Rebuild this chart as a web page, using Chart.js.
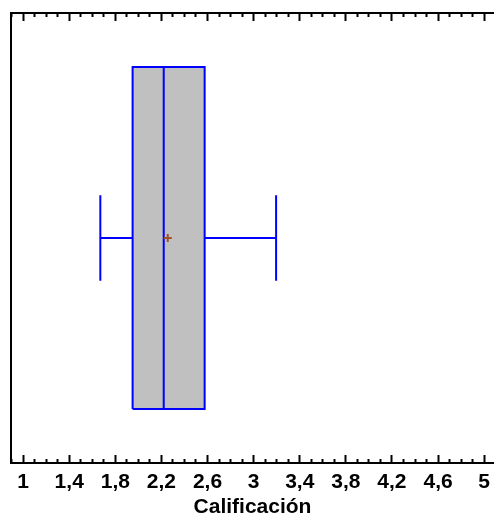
<!DOCTYPE html>
<html>
<head>
<meta charset="utf-8">
<script src="https://cdn.jsdelivr.net/npm/chart.js@4"></script>
<style>
    html, body { margin: 0; padding: 0; background: #fff; }
    #wrap { width: 494px; height: 525px; }
</style>
</head>
<body>
<div id="wrap"><canvas id="boxChart"></canvas></div>
<script>
// Box plot data
const axisTitle = 'Calificación';
const whiskerMin = [1.67];
const quartile1 = [1.95];
const medians = [2.22];
const quartile3 = [2.575];
const whiskerMax = [3.195];
const means = [2.255];

const tickValues = [1, 1.4, 1.8, 2.2, 2.6, 3, 3.4, 3.8, 4.2, 4.6, 5];
const tickLabels = ['1', '1,4', '1,8', '2,2', '2,6', '3', '3,4', '3,8', '4,2', '4,6', '5'];

// vertical layout of the box inside the plot (0..1)
const BOX_LO = 0.12;
const BOX_HI = 0.88;
const CAP_LO = 0.405;
const CAP_HI = 0.595;
const MID = 0.5;

const BLUE = '#0000ff';
const FONT = '"Liberation Sans", Arial, sans-serif';

function isMajor(value) {
    return tickValues.some(t => Math.abs(t - value) < 1e-6);
}

function labelFor(value) {
    const i = tickValues.findIndex(t => Math.abs(t - value) < 1e-6);
    return i >= 0 ? tickLabels[i] : '';
}

function segment(points) {
    return {
        type: 'scatter',
        data: points,
        showLine: true,
        fill: false,
        borderColor: BLUE,
        borderWidth: 2,
        pointRadius: 0,
        tension: 0
    };
}

const datasets = [
    // mean marker
    {
        type: 'scatter',
        data: [{x: means[0], y: MID}],
        showLine: false,
        pointStyle: 'cross',
        pointRadius: 4,
        pointBorderColor: '#a0522d',
        pointBorderWidth: 2
    },
    // median
    segment([{x: medians[0], y: BOX_LO}, {x: medians[0], y: BOX_HI}]),
    // box
    Object.assign(segment([
        {x: quartile1[0], y: BOX_LO},
        {x: quartile3[0], y: BOX_LO},
        {x: quartile3[0], y: BOX_HI},
        {x: quartile1[0], y: BOX_HI},
        {x: quartile1[0], y: BOX_LO}
    ]), {fill: 'shape', backgroundColor: '#c0c0c0'}),
    // whiskers
    segment([{x: whiskerMin[0], y: MID}, {x: quartile1[0], y: MID}]),
    segment([{x: quartile3[0], y: MID}, {x: whiskerMax[0], y: MID}]),
    segment([{x: whiskerMin[0], y: CAP_LO}, {x: whiskerMin[0], y: CAP_HI}]),
    segment([{x: whiskerMax[0], y: CAP_LO}, {x: whiskerMax[0], y: CAP_HI}])
];

const X_MIN = 0.895;
const X_MAX = 5.085;

// ticks point inward: negative tick length, minor ones shortened with a dash
const tickScale = {
    type: 'linear',
    min: X_MIN,
    max: X_MAX,
    border: { display: true, color: '#000', width: 2 },
    grid: {
        display: true,
        drawOnChartArea: false,
        drawTicks: true,
        tickLength: -8,
        tickColor: '#000',
        tickWidth: 2
    }
};

new Chart(document.getElementById('boxChart'), {
    type: 'scatter',
    data: { datasets: datasets },
    options: {
        responsive: true,
        maintainAspectRatio: false,
        animation: false,
        events: [],
        layout: { autoPadding: false, padding: { left: 11, right: 0, top: 13, bottom: 15 } },
        plugins: {
            legend: { display: false },
            tooltip: { enabled: false }
        },
        scales: {
            x: Object.assign({}, tickScale, {
                position: 'bottom',
                grid: Object.assign({}, tickScale.grid, {
                    tickBorderDash: ctx => isMajor(ctx.tick.value) ? [] : [5, 50]
                }),
                ticks: {
                    stepSize: 0.1,
                    includeBounds: false,
                    autoSkip: false,
                    maxRotation: 0,
                    minRotation: 0,
                    padding: 4,
                    color: '#000',
                    font: { family: FONT, size: 21, weight: 'bold', lineHeight: 2.19 },
                    callback: value => labelFor(value)
                },
                title: {
                    display: true,
                    text: axisTitle,
                    color: '#000',
                    padding: { top: -5, bottom: 0 },
                    font: { family: FONT, size: 21, weight: 'bold', lineHeight: 0.286 }
                }
            }),
            xTop: Object.assign({}, tickScale, {
                position: 'top',
                grid: Object.assign({}, tickScale.grid, {
                    tickBorderDash: ctx => isMajor(ctx.tick.value) ? [] : [0, 4, 6, 50]
                }),
                ticks: {
                    stepSize: 0.1,
                    includeBounds: false,
                    autoSkip: false,
                    maxRotation: 0,
                    minRotation: 0,
                    padding: 0,
                    font: { size: 8, lineHeight: 1 },
                    callback: () => ''
                }
            }),
            y: {
                type: 'linear',
                min: 0,
                max: 1,
                position: 'left',
                border: { display: true, color: '#000', width: 2 },
                grid: { display: false, drawTicks: false },
                ticks: { display: false }
            }
        }
    }
});
</script>
</body>
</html>
